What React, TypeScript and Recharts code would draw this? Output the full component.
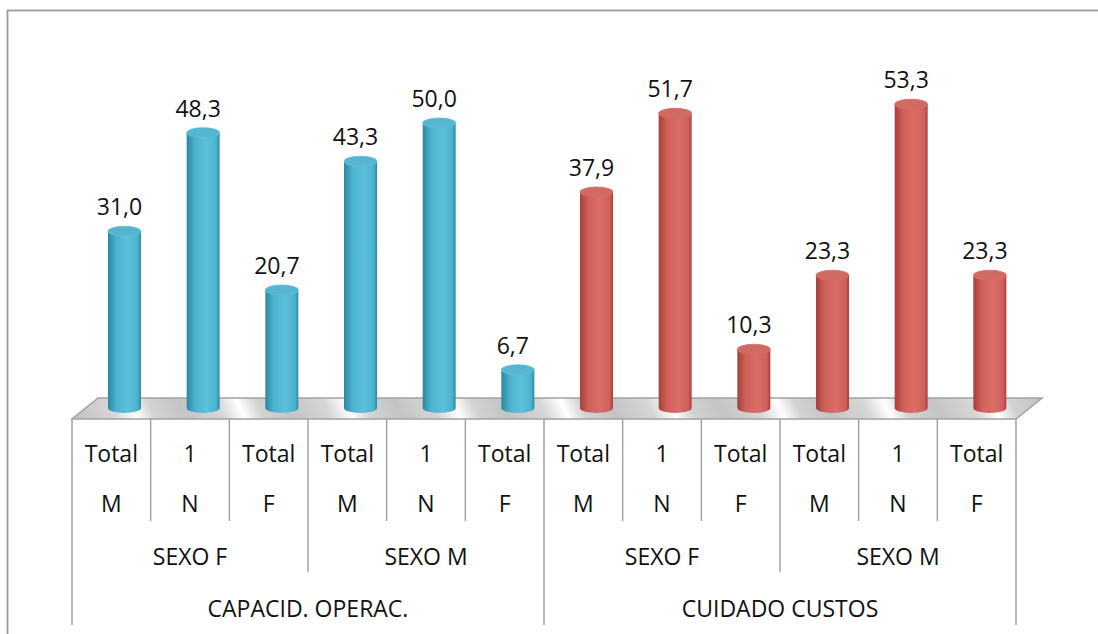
import React from "react"
import { BarChart, Bar, XAxis, YAxis, LabelList } from "recharts"

// Percent values per category, left to right
const values = [31.0, 48.3, 20.7, 43.3, 50.0, 6.7, 37.9, 51.7, 10.3, 23.3, 53.3, 23.3]
// Two-line category labels
const lineOne = ["Total", "1", "Total", "Total", "1", "Total", "Total", "1", "Total", "Total", "1", "Total"]
const lineTwo = ["M", "N", "F", "M", "N", "F", "M", "N", "F", "M", "N", "F"]
// Second and third level groups
const sexGroups = ["SEXO F", "SEXO M", "SEXO F", "SEXO M"]
const topGroups = ["CAPACID. OPERAC.", "CUIDADO CUSTOS"]

const data = values.map((v, i) => ({ name: `${lineOne[i]} ${lineTwo[i]} ${i}`, value: v }))

const W = 1098
const H = 634
const LEFT = 72
const RIGHT = 1016
const BASE = 408
const FLOOR_FRONT = 419
const FLOOR_BACK = 398
const DEPTH_X = 26
const SHIFT = 13
const BAND = (RIGHT - LEFT) / values.length
const FONT = "'Open Sans', Lato, sans-serif"
const FS = 23
const GRID = "#a3a3a3"

const palette = [
  { dark: "#2c87a0", mid: "#4bb2ce", light: "#5dc0da", top: "#56b5cf" },
  { dark: "#a63f3b", mid: "#cf5f59", light: "#da6d66", top: "#d26a64" },
]

const Floor = () => (
  <g>
    <defs>
      <linearGradient id="floorShine" gradientUnits="userSpaceOnUse" x1="0" y1="0" x2="90" y2="-40" spreadMethod="repeat">
        <stop offset="0" stopColor="#c4c4c4" />
        <stop offset="0.35" stopColor="#d6d6d6" />
        <stop offset="0.55" stopColor="#ffffff" />
        <stop offset="0.72" stopColor="#d2d2d2" />
        <stop offset="1" stopColor="#c4c4c4" />
      </linearGradient>
    </defs>
    <polygon
      points={`${LEFT},${FLOOR_FRONT} ${RIGHT},${FLOOR_FRONT} ${RIGHT + DEPTH_X},${FLOOR_BACK} ${LEFT + DEPTH_X},${FLOOR_BACK}`}
      fill="url(#floorShine)"
      stroke={GRID}
      strokeWidth={1.5}
    />
  </g>
)

const Cylinder = (props: any) => {
  const { x, y, width, height, index } = props
  const c = palette[index < 6 ? 0 : 1]
  const cx = x + SHIFT + width / 2
  const rx = width / 2
  const ry = 5
  const bottom = y + height
  const gid = `cyl${index}`
  return (
    <g>
      {index === 0 && <Floor />}
      <defs>
        <linearGradient id={gid} x1="0" y1="0" x2="1" y2="0">
          <stop offset="0" stopColor={c.dark} />
          <stop offset="0.25" stopColor={c.mid} />
          <stop offset="0.6" stopColor={c.light} />
          <stop offset="0.9" stopColor={c.mid} />
          <stop offset="1" stopColor={c.dark} />
        </linearGradient>
      </defs>
      <path
        d={`M${cx - rx},${y} L${cx - rx},${bottom} A${rx},${ry} 0 0 0 ${cx + rx},${bottom} L${cx + rx},${y} Z`}
        fill={`url(#${gid})`}
      />
      <ellipse cx={cx} cy={y} rx={rx} ry={ry} fill={c.top} stroke={c.light} strokeWidth={0.8} />
    </g>
  )
}

const ValueLabel = (props: any) => {
  const { x, y, width, value } = props
  const cx = x + SHIFT + width / 2 - 5
  return (
    <text x={cx} y={y - 16} textAnchor="middle" fontFamily={FONT} fontSize={FS} fill="#111">
      {Number(value).toFixed(1).replace(".", ",")}
    </text>
  )
}

const CategoryTick = (props: any) => {
  const { x, payload } = props
  const i = payload.index
  const right = x + BAND / 2
  const left = x - BAND / 2
  // separator under each cell: longer at sex-group ends, full height at top-group ends
  let lineEnd = 521
  if (i % 3 === 2) lineEnd = 572
  if (i % 6 === 5) lineEnd = 625
  return (
    <g>
      {i === 0 && <line x1={left} y1={FLOOR_FRONT} x2={left} y2={625} stroke={GRID} strokeWidth={1.5} />}
      <line x1={right} y1={FLOOR_FRONT} x2={right} y2={lineEnd} stroke={GRID} strokeWidth={1.5} />
      <text x={x} y={462} textAnchor="middle" fontFamily={FONT} fontSize={FS} fill="#111">
        {lineOne[i]}
      </text>
      <text x={x} y={512} textAnchor="middle" fontFamily={FONT} fontSize={FS} fill="#111">
        {lineTwo[i]}
      </text>
      {i % 3 === 1 && (
        <text x={x} y={565} textAnchor="middle" fontFamily={FONT} fontSize={FS} fill="#111">
          {sexGroups[Math.floor(i / 3)]}
        </text>
      )}
      {i % 6 === 2 && (
        <text x={right} y={617} textAnchor="middle" fontFamily={FONT} fontSize={FS} fill="#111">
          {topGroups[Math.floor(i / 6)]}
        </text>
      )}
    </g>
  )
}

export default function App() {
  return (
    <div style={{ position: "absolute", left: 0, top: 0, width: W, height: H, background: "#fff" }}>
      <svg width={W} height={H} style={{ position: "absolute", left: 0, top: 0 }}>
        <rect x={7.5} y={10.5} width={W} height={H} fill="none" stroke="#9b9b9b" strokeWidth={1.8} />
      </svg>
      <BarChart
        width={W}
        height={H}
        data={data}
        margin={{ top: 66, right: W - RIGHT, bottom: 0, left: LEFT }}
        barSize={33}
        style={{ position: "absolute", left: 0, top: 0 }}
      >
        <XAxis
          dataKey="name"
          height={H - BASE}
          axisLine={false}
          tickLine={false}
          interval={0}
          tick={<CategoryTick />}
        />
        <YAxis hide domain={[0, 60]} />
        <Bar dataKey="value" shape={<Cylinder />} isAnimationActive={false}>
          <LabelList dataKey="value" content={<ValueLabel />} />
        </Bar>
      </BarChart>
    </div>
  )
}
